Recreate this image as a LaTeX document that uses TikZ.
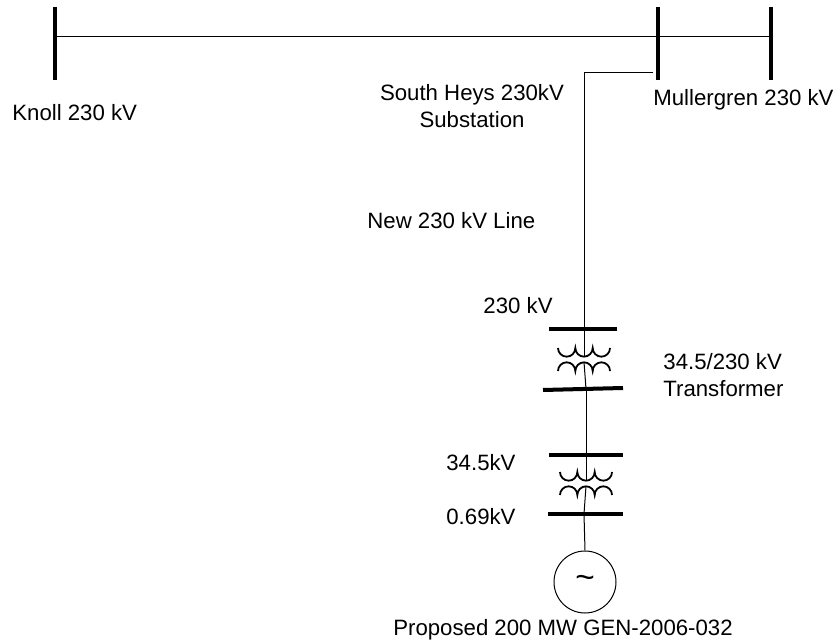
\documentclass[tikz,border=0pt]{standalone}
\usepackage{fontspec}
\setmainfont{Liberation Sans}
\usepackage{tikz}

\tikzset{
	bus/.style={line width=2pt},
	wire/.style={line width=0.5pt},
	coil/.style={line width=0.9pt},
	lbl/.style={inner sep=0pt,font=\fontsize{11.1}{13.4}\selectfont},
}

\begin{document}
\begin{tikzpicture}[x=0.5pt,y=0.5pt]
			\useasboundingbox (0,0) rectangle (835,-641);
			% buses of the 230 kV system
			\coordinate (knollT) at (55,-7);      \coordinate (knollB) at (55,-80);
			\coordinate (heysT) at (658,-7);      \coordinate (heysB) at (658,-80);
			\coordinate (mullT) at (771,-7);      \coordinate (mullB) at (771,-80);
			\draw[bus](knollT)--(knollB);
			\draw[bus](heysT)--(heysB);
			\draw[bus](mullT)--(mullB);
			\coordinate (knoll) at (55,-37);
			\coordinate (mull) at (771,-37);
			\draw[wire](knoll)--(mull);
			% transformer buses
			\coordinate (hvL) at (549,-329);  \coordinate (hvR) at (617,-329);
			\coordinate (mvL) at (543,-390);  \coordinate (mvR) at (623,-388);
			\coordinate (mv2L) at (549,-455); \coordinate (mv2R) at (623,-455);
			\coordinate (lvL) at (548,-514);  \coordinate (lvR) at (623,-514);
			\draw[bus](hvL)--(hvR);
			\draw[bus](mvL)--(mvR);
			\draw[bus](mv2L)--(mv2R);
			\draw[bus](lvL)--(lvR);
			% new line
			\coordinate (tap) at (653,-73);
			\coordinate (hv) at (584,-329);
			\draw[wire](tap)-|(hv);
			% windings
			\foreach \cx/\cy in {584/348,586/472}{
				\draw[coil](\cx-26,-\cy) arc(180:360:8.67) arc(180:360:8.67) arc(180:360:8.67);
				\draw[coil](\cx-26,-\cy-23) arc(180:0:8.67) arc(180:0:8.67) arc(180:0:8.67);
			}
			\draw[wire](584,-329)--(584,-356);
			\draw[wire](584,-362)--(586,-389);
			\draw[wire](586,-389)--(586,-455);
			\draw[wire](586,-455)--(586,-480);
			\draw[wire](586,-486)--(584,-514);
			% generator
			\node[draw,circle,wire,minimum size=31pt,inner sep=0pt,lbl] (gen) at (585,-582) {\scalebox{1.5}{\char`\~}};
			\draw[wire](584,-514)--(gen.north);
			% labels
			\node[lbl,anchor=west] (knolltxt) at (12,-113) {Knoll 230 kV};
			\node[lbl,align=center] (heystxt) at (472,-106) {South Heys 230kV\\Substation};
			\node[lbl,anchor=west] (mulltxt) at (653,-100) {Mullergren 230 kV};
			\node[lbl,anchor=west] (linetxt) at (367,-221) {New 230 kV Line};
			\node[lbl,anchor=east] (hvtxt) at (553,-306) {230 kV};
			\node[lbl,align=left,anchor=west] (xfmrtxt) at (663,-375) {34.5/230 kV\\Transformer};
			\node[lbl,anchor=west] (mvtxt) at (446,-463) {34.5kV};
			\node[lbl,anchor=west] (lvtxt) at (446,-517) {0.69kV};
			\node[lbl] (gentxt) at (563,-630) {Proposed 200 MW GEN-2006-032};
		\end{tikzpicture}
\end{document}
